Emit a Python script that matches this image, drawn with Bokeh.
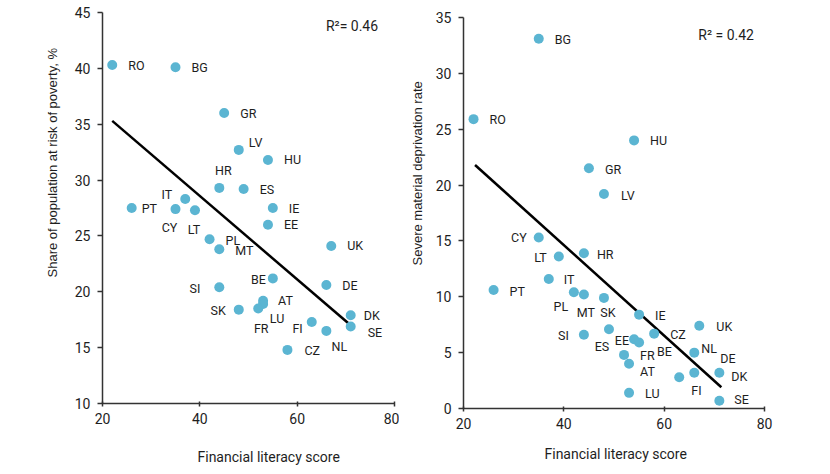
from bokeh.plotting import figure
from bokeh.models import ColumnDataSource, Range1d, Label, FixedTicker, Title
from bokeh.layouts import row
from bokeh.core.properties import value
from bokeh.embed import file_html
from bokeh.resources import INLINE

countries = ["RO", "BG", "GR", "LV", "HU", "HR", "ES", "IT", "PT", "CY", "LT", "IE", "EE", "PL",
             "MT", "UK", "BE", "DE", "SI", "AT", "LU", "FR", "SK", "FI", "NL", "DK", "SE", "CZ"]
literacy = [22, 35, 45, 48, 54, 44, 49, 37, 26, 35, 39, 55, 54, 42,
            44, 67, 55, 66, 44, 53, 53, 52, 48, 63, 66, 71, 71, 58]
poverty = [40.3, 40.1, 36.0, 32.7, 31.8, 29.3, 29.2, 28.3, 27.5, 27.4, 27.3, 27.5, 26.0, 24.7,
           23.8, 24.1, 21.2, 20.6, 20.4, 19.2, 18.9, 18.5, 18.4, 17.3, 16.5, 17.9, 16.9, 14.8]
deprivation = [25.9, 33.1, 21.5, 19.2, 24.0, 13.9, 7.1, 11.6, 10.6, 15.3, 13.6, 8.4, 6.2, 10.4,
               10.2, 7.4, 5.9, 3.2, 6.6, 4.0, 1.4, 4.8, 9.9, 2.8, 5.0, 3.2, 0.7, 6.7]

trend1_x = [22, 71]
trend1_y = [35.3, 17.0]
trend2_x = [22.3, 71.4]
trend2_y = [21.8, 1.9]

r2_left = "R²= 0.46"
r2_right = "R² = 0.42"
xlabel = "Financial literacy score"
ylabel_left = "Share of population at risk of poverty, %"
ylabel_right = "Severe material deprivation rate"

x_ticks = [20, 40, 60, 80]
y1_ticks = [10, 15, 20, 25, 30, 35, 40, 45]
y2_ticks = [0, 5, 10, 15, 20, 25, 30, 35]

# label placement (pixel offsets from point, anchor alignment)
place_left = {
    "RO": (16, 0, "left"), "BG": (16, 0, "left"), "GR": (16, 0, "left"), "LV": (10, -7, "left"),
    "HU": (16, 0, "left"), "HR": (4, -17, "center"), "ES": (16, 0, "left"), "IT": (-13, -5, "right"),
    "PT": (10, 0, "left"), "CY": (-6, 18, "center"), "LT": (-1, 19, "center"), "IE": (16, 0, "left"),
    "EE": (16, 0, "left"), "PL": (16, 1, "left"), "MT": (16, 1, "left"), "UK": (16, 0, "left"),
    "BE": (-7, 1, "right"), "DE": (16, 0, "left"), "SI": (-19, 1, "right"), "AT": (15, 0, "left"),
    "LU": (14, 14, "center"), "FR": (3, 20, "center"), "SK": (-13, 1, "right"), "FI": (-9, 7, "right"),
    "NL": (13, 16, "center"), "DK": (13, 0, "left"), "SE": (17, 6, "left"), "CZ": (17, 1, "left"),
}
place_right = {
    "BG": (16, 1, "left"), "RO": (16, 0, "left"), "HU": (16, 0, "left"), "GR": (16, 1, "left"),
    "LV": (17, 1, "left"), "CY": (-12, 0, "right"), "LT": (-12, 1, "right"), "HR": (13, 1, "left"),
    "IT": (15, 1, "left"), "PT": (16, 1, "left"), "PL": (-13, 14, "center"), "MT": (2, 18, "center"),
    "SK": (4, 15, "center"), "IE": (16, 1, "left"), "UK": (17, 1, "left"), "ES": (-7, 17, "center"),
    "CZ": (16, 1, "left"), "SI": (-15, 1, "right"), "EE": (-5, 1, "right"), "BE": (18, 9, "left"),
    "NL": (7, -4, "left"), "FR": (16, 1, "left"), "AT": (11, 8, "left"), "DE": (26, -14, "left"),
    "DK": (12, 4, "left"), "FI": (12, 13, "left"), "LU": (16, 1, "left"), "SE": (15, -1, "left"),
}

DOT = "#5bb5d2"
INK = "#1e1e1e"
SANS = "Liberation Sans"
DIN = "Roboto"


def make(yvals, yr, yticks, trend_x, trend_y, place, r2, r2pos, ylab, ylab_off, ylab_standoff,
         xlab_off, xlab_standoff, bl, br, bt, bb, fw):
    p = figure(frame_width=fw, frame_height=391, output_backend="svg", toolbar_location=None,
               x_range=Range1d(20, 80), y_range=Range1d(*yr), frame_align=False,
               min_border_left=bl, min_border_right=br, min_border_top=bt, min_border_bottom=bb)
    p.outline_line_color = None
    p.grid.visible = False
    p.background_fill_color = "white"
    p.border_fill_color = "white"
    for ax, ticks in ((p.xaxis, x_ticks), (p.yaxis, yticks)):
        ax.ticker = FixedTicker(ticks=ticks)
        ax.axis_line_color = "#333333"
        ax.axis_line_width = 1.5
        ax.major_tick_line_color = "#333333"
        ax.major_tick_line_width = 1.5
        ax.minor_tick_line_color = None
        ax.major_label_text_font = DIN
        ax.major_label_text_font_size = "14px"
        ax.major_label_text_color = INK
    p.yaxis.major_tick_out = 5
    p.yaxis.major_tick_in = 0
    p.yaxis.major_label_standoff = 7
    p.xaxis.major_tick_out = 3
    p.xaxis.major_tick_in = 2
    p.xaxis.major_label_standoff = 6

    p.line(trend_x, trend_y, line_color="black", line_width=2.5)
    p.scatter(literacy, yvals, size=10, fill_color=DOT, line_color=None)

    for align in ("left", "right", "center"):
        idx = [i for i, c in enumerate(countries) if place[c][2] == align]
        src = ColumnDataSource(dict(
            x=[literacy[i] for i in idx], y=[yvals[i] for i in idx],
            t=[countries[i] for i in idx],
            dx=[place[countries[i]][0] for i in idx], dy=[place[countries[i]][1] for i in idx]))
        p.text(x="x", y="y", text="t", x_offset="dx", y_offset="dy", source=src,
               text_align=align, text_baseline="middle", text_font=value(DIN),
               text_font_size="12.5px", text_color=INK)

    p.add_layout(Label(x=r2pos[0], y=r2pos[1], text=r2, text_font=DIN, text_font_size="14px",
                       text_color=INK, text_baseline="middle", text_align="left"))
    p.add_layout(Title(text=ylab, align="left", offset=ylab_off, standoff=ylab_standoff,
                       text_font=SANS, text_font_size="13px", text_font_style="normal",
                       text_color=INK), "left")
    p.add_layout(Title(text=xlabel, align="left", offset=xlab_off, standoff=xlab_standoff,
                       text_font=DIN, text_font_size="14px", text_font_style="normal",
                       text_color=INK), "below")
    return p


p1 = make(poverty, (10, 45), y1_ticks, trend1_x, trend1_y, place_left, r2_left, (65.9, 43.75),
          ylabel_left, 126, 23, 95, 41, 102, 5, 12, 20, 292)
p2 = make(deprivation, (0, 35), y2_ticks, trend2_x, trend2_y, place_right, r2_right, (66.8, 33.4),
          ylabel_right, 143, 16, 81, 24, 64, 50, 17, 20, 301)

layout = row(p1, p2)
open("out.html", "w").write(file_html(layout, INLINE))
